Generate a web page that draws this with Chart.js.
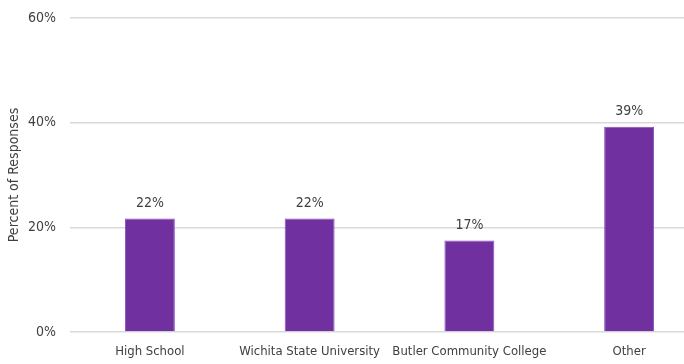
<!DOCTYPE html>
<html>
<head>
<meta charset="utf-8">
<script src="https://cdn.jsdelivr.net/npm/chart.js@4"></script>
<style>
  html, body { margin: 0; padding: 0; overflow: hidden; background: #fff; }
  #wrap { width: 709px; height: 364px; }
</style>
</head>
<body>
<div id="wrap"><canvas id="myChart"></canvas></div>
<script>
// data
const categories = ['High School', 'Wichita State University', 'Butler Community College', 'Other'];
const responses = [21.7, 21.7, 17.5, 39.2];
const valueLabels = ['22%', '22%', '17%', '39%'];

const FONT = '"DejaVu Sans Condensed", "Roboto", sans-serif';
const TEXT = '#404040';

// draws the value above each bar
const barLabels = {
  id: 'barLabels',
  afterDatasetsDraw(chart) {
    const ctx = chart.ctx;
    const meta = chart.getDatasetMeta(0);
    ctx.save();
    ctx.font = '14px ' + FONT;
    ctx.fillStyle = TEXT;
    ctx.textAlign = 'center';
    ctx.textBaseline = 'bottom';
    meta.data.forEach(function(bar, i) {
      ctx.fillText(valueLabels[i], bar.x, bar.y - 8);
    });
    ctx.restore();
  }
};

var ctx = document.getElementById('myChart').getContext('2d');

var chart = new Chart(ctx, {
  type: 'bar',
  data: {
    labels: categories,
    datasets: [{
      data: responses,
      backgroundColor: '#7030A0',
      borderColor: '#8a4bbd',
      borderWidth: 1,
      barPercentage: 0.3125,
      categoryPercentage: 1
    }]
  },
  options: {
    responsive: true,
    maintainAspectRatio: false,
    animation: false,
    layout: { padding: { top: 18, left: 0, right: 0, bottom: 0 } },
    plugins: {
      legend: { display: false },
      tooltip: { enabled: false }
    },
    scales: {
      x: {
        grid: { display: false },
        border: { display: false },
        ticks: { color: TEXT, font: { family: FONT, size: 13 }, padding: 4, maxRotation: 0, autoSkip: false },
        afterFit: function(scale) {
          scale.height = 32;
          scale.paddingLeft = 0;
          scale.paddingRight = 0;
        }
      },
      y: {
        min: 0,
        max: 60,
        ticks: {
          stepSize: 20,
          color: TEXT,
          font: { family: FONT, size: 14 },
          padding: 14,
          callback: function(v) { return v + '%'; }
        },
        grid: { color: '#d9d9d9', lineWidth: 1.5, drawTicks: false },
        border: { display: false },
        title: {
          display: true,
          text: 'Percent of Responses',
          color: TEXT,
          font: { family: FONT, size: 14 },
          padding: { top: 6, bottom: 0 }
        },
        afterFit: function(scale) {
          scale.width = 70;
          scale.paddingTop = 0;
          scale.paddingBottom = 0;
        }
      }
    }
  },
  plugins: [barLabels]
});
</script>
</body>
</html>
